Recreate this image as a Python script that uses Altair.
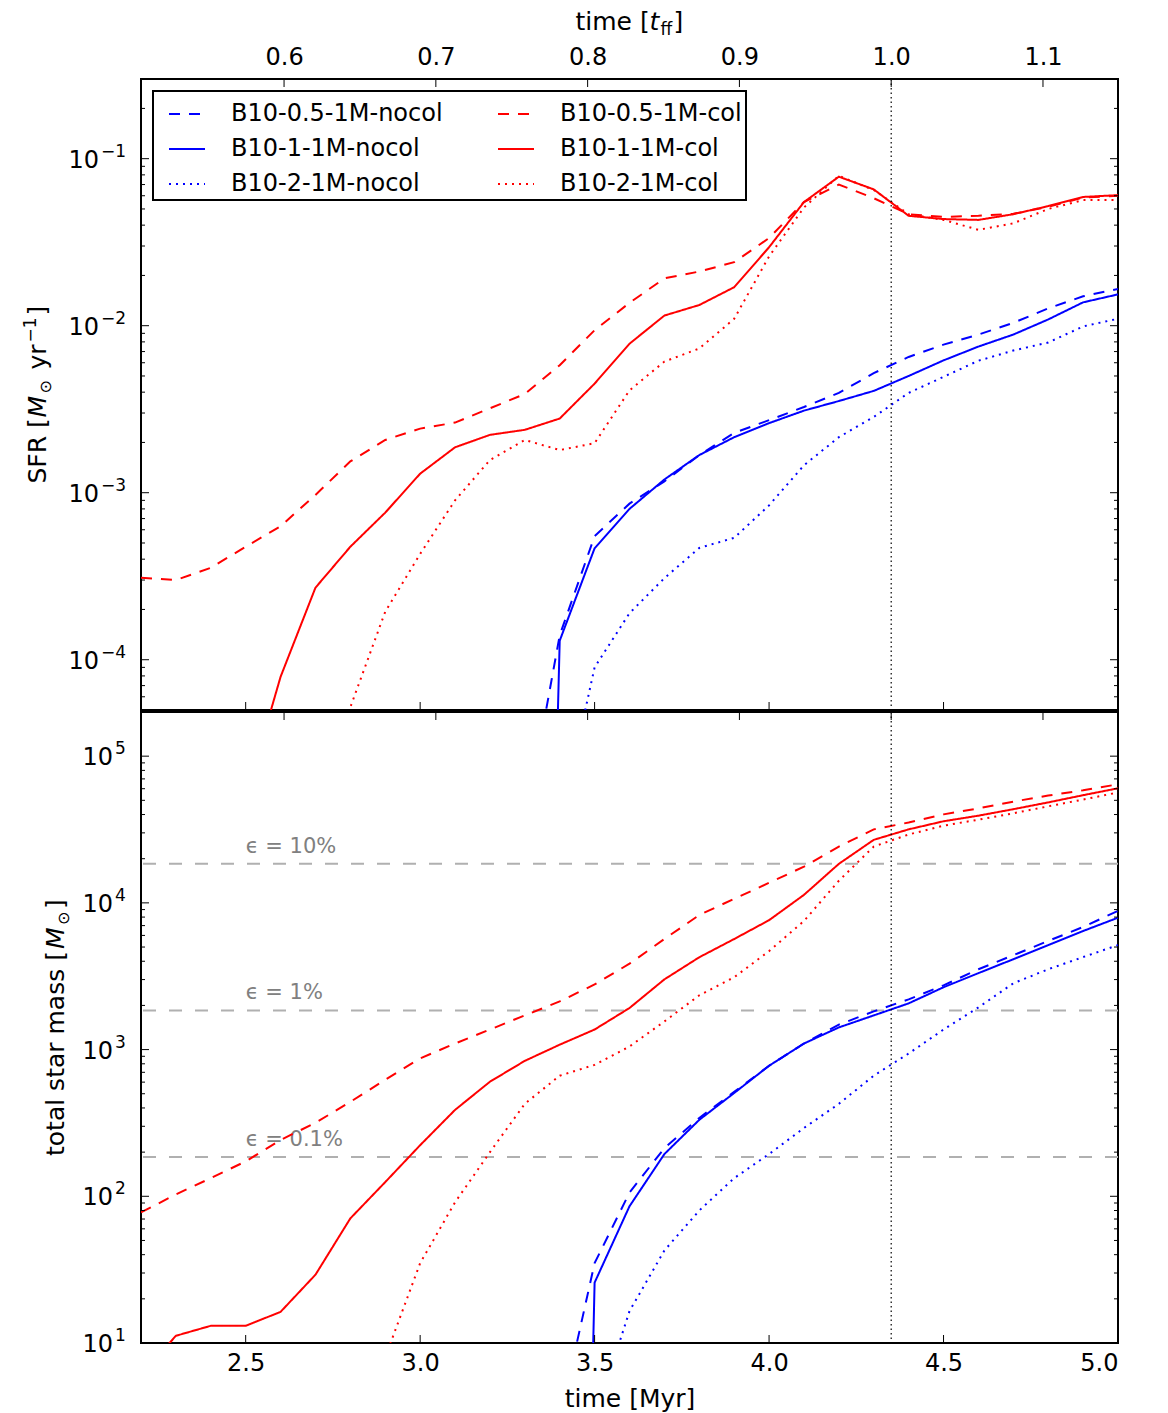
import math
import altair as alt
import pandas as pd

FONT = "DejaVu Sans"
T_FF = 4.35          # Myr corresponding to 1 free-fall time
M_CLOUD = 1.85e5     # total cloud mass [Msun]

times = [2.2, 2.3, 2.4, 2.5, 2.6, 2.7, 2.8, 2.9, 3.0, 3.1, 3.2, 3.3, 3.4, 3.5,
         3.6, 3.7, 3.8, 3.9, 4.0, 4.1, 4.2, 4.3, 4.4, 4.5, 4.6, 4.7, 4.8, 4.9, 5.0]

series_names = ["B10-0.5-1M-nocol", "B10-1-1M-nocol", "B10-2-1M-nocol",
                "B10-0.5-1M-col", "B10-1-1M-col", "B10-2-1M-col"]
series_colors = ["#0000ff", "#0000ff", "#0000ff", "#ff0000", "#ff0000", "#ff0000"]
series_dashes = [[11, 9], [1, 0], [2, 5], [11, 9], [1, 0], [2, 5]]

# ---- SFR [Msun/yr] ----
sfr_05_nocol = [None] * 11 + [1e-5, 1.4e-4, 5.5e-4, 8.6e-4, 1.17e-3, 1.68e-3, 2.28e-3,
                              2.72e-3, 3.26e-3, 3.96e-3, 5.2e-3, 6.5e-3, 7.7e-3, 8.85e-3,
                              1.04e-2, 1.27e-2, 1.5e-2, 1.66e-2]
sfr_05_col = [3.1e-4, 3.0e-4, 3.55e-4, 4.75e-4, 6.3e-4, 9.7e-4, 1.54e-3, 2.07e-3, 2.42e-3,
              2.63e-3, 3.2e-3, 3.9e-3, 5.8e-3, 9.4e-3, 1.37e-2, 1.92e-2, 2.11e-2, 2.4e-2,
              3.35e-2, 5.5e-2, 7.0e-2, 5.8e-2, 4.65e-2, 4.48e-2, 4.55e-2, 4.68e-2, 5.15e-2,
              5.85e-2, 6.0e-2]
sfr_1_nocol = [None] * 11 + [1e-12, 1.3e-4, 4.65e-4, 8.0e-4, 1.2e-3, 1.68e-3, 2.15e-3,
                             2.61e-3, 3.1e-3, 3.54e-3, 4.07e-3, 5.0e-3, 6.2e-3, 7.5e-3,
                             8.85e-3, 1.09e-2, 1.38e-2, 1.54e-2]
sfr_1_col = [None] * 3 + [1.5e-5, 7.9e-5, 2.7e-4, 4.75e-4, 7.6e-4, 1.3e-3, 1.87e-3, 2.22e-3,
                          2.38e-3, 2.78e-3, 4.5e-3, 7.8e-3, 1.15e-2, 1.33e-2, 1.7e-2, 2.95e-2,
                          5.5e-2, 7.8e-2, 6.55e-2, 4.55e-2, 4.35e-2, 4.3e-2, 4.65e-2, 5.2e-2,
                          5.9e-2, 6.05e-2]
sfr_2_nocol = [None] * 12 + [1e-5, 9e-5, 1.9e-4, 3.08e-4, 4.67e-4, 5.37e-4, 8.4e-4, 1.46e-3,
                             2.15e-3, 2.84e-3, 3.96e-3, 4.94e-3, 6.17e-3, 7.1e-3, 7.93e-3,
                             9.9e-3, 1.1e-2]
sfr_2_col = [None] * 5 + [1.5e-5, 5.2e-5, 1.94e-4, 4.3e-4, 9.0e-4, 1.57e-3, 2.07e-3, 1.8e-3,
                          1.98e-3, 4.1e-3, 6.1e-3, 7.3e-3, 1.1e-2, 2.6e-2, 5.1e-2, 7.9e-2,
                          6.5e-2, 4.65e-2, 4.3e-2, 3.75e-2, 4.1e-2, 5.0e-2, 5.65e-2, 5.65e-2]

# ---- total star mass [Msun] ----
mass_05_nocol = [None] * 12 + [3, 35, 106, 213, 342, 515, 776, 1100, 1480, 1820, 2200, 2740,
                               3530, 4400, 5500, 6850, 8820]
mass_05_col = [77.6, 103, 133, 173, 242, 317, 440, 623, 871, 1100, 1370, 1710, 2130, 2780,
               3850, 5670, 8270, 10650, 13700, 17650, 24200, 31700, 35300, 40100, 44100,
               49000, 53900, 58500, 64300]
mass_1_nocol = [None] * 12 + [1e-9, 25.8, 85.5, 194, 332, 506, 776, 1100, 1416, 1710, 2065,
                              2660, 3320, 4130, 5155, 6430, 7925]
mass_1_col = [6, 11.2, 13.1, 13.1, 16.3, 29.2, 70.7, 125, 223, 388, 604, 838, 1080, 1370,
              1920, 3010, 4260, 5670, 7620, 11340, 18450, 26900, 31700, 36000, 39300, 43500,
              48400, 54200, 60400]
mass_2_nocol = [None] * 13 + [3, 16.5, 42.7, 80, 133, 194, 292, 427, 664, 940, 1370, 1940,
                              2830, 3530, 4270, 5155]
mass_2_col = [None] * 7 + [8, 35, 91, 200, 427, 664, 787, 1050, 1555, 2344, 3112, 4690, 7530,
                           14150, 24200, 29250, 33600, 36900, 40800, 45500, 50600, 56600]

# ---- axes / annotations ----
x_ticks = [2.5, 3.0, 3.5, 4.0, 4.5, 5.0]
tff_ticks = [0.6, 0.7, 0.8, 0.9, 1.0, 1.1]
sfr_major = [1e-4, 1e-3, 1e-2, 1e-1]
sfr_exponents = ["−4", "−3", "−2", "−1"]
sfr_minor = [5e-5, 6e-5, 7e-5, 8e-5, 9e-5,
             2e-4, 3e-4, 4e-4, 5e-4, 6e-4, 7e-4, 8e-4, 9e-4,
             2e-3, 3e-3, 4e-3, 5e-3, 6e-3, 7e-3, 8e-3, 9e-3,
             2e-2, 3e-2, 4e-2, 5e-2, 6e-2, 7e-2, 8e-2, 9e-2, 2e-1, 3e-1]
mass_major = [1e1, 1e2, 1e3, 1e4, 1e5]
mass_exponents = ["1", "2", "3", "4", "5"]
mass_minor = [2e1, 3e1, 4e1, 5e1, 6e1, 7e1, 8e1, 9e1,
              2e2, 3e2, 4e2, 5e2, 6e2, 7e2, 8e2, 9e2,
              2e3, 3e3, 4e3, 5e3, 6e3, 7e3, 8e3, 9e3,
              2e4, 3e4, 4e4, 5e4, 6e4, 7e4, 8e4, 9e4, 2e5]
eps_levels = [0.001, 0.01, 0.1]
eps_labels = ["ϵ = 0.1%", "ϵ = 1%", "ϵ = 10%"]
eps_label_time = [2.5, 2.5, 2.5]
tff_line = [T_FF]

# axis-title pieces: (text, font size, style, baseline shift, advance)
sfr_title = [("SFR [", 25, "normal", 0, 66), ("M", 25, "italic", 0, 24),
             ("⊙", 16, "normal", 5, 24), ("yr", 25, "normal", 0, 27),
             ("−1", 17, "normal", -10, 27), ("]", 25, "normal", 0, 10)]
mass_title = [("total star mass [", 25, "normal", 0, 207), ("M", 25, "italic", 0, 24),
              ("⊙", 16, "normal", 5, 16), ("]", 25, "normal", 0, 10)]
tff_title = [("time [", 25, "normal", 0, 74), ("t", 25, "italic", 0, 11),
             ("ff", 17, "normal", 5, 13), ("]", 25, "normal", 0, 10)]

W, H = 977, 631
xscale = alt.Scale(domain=[2.2, 5.0], nice=False, zero=False)
sfr_scale = alt.Scale(type="log", domain=[5e-5, 0.3], nice=False)
mass_scale = alt.Scale(type="log", domain=[10, 2e5], nice=False)
color_scale = alt.Scale(domain=series_names, range=series_colors)
dash_scale = alt.Scale(domain=series_names, range=series_dashes)


def long_frame(value_lists):
    rows = []
    for name, vals in zip(series_names, value_lists):
        for t, v in zip(times, vals):
            if v is not None:
                rows.append({"t": t, "v": v, "series": name})
    return pd.DataFrame(rows)


x_axis_top = alt.Axis(orient="top", values=[v * T_FF for v in tff_ticks],
                      labelExpr=f"format(datum.value/{T_FF}, '.1f')",
                      title=None, labelPadding=10)
x_axis_bot = alt.Axis(orient="bottom", values=x_ticks, format=".1f",
                      title="time [Myr]", labelPadding=8, titlePadding=11)

one = pd.DataFrame({"a": [0]})


def text_piece(txt, px, py, fs, style, align="left", angle=0):
    kw = dict(text=txt, font=FONT, fontSize=fs, align=align, fontStyle=style,
              baseline="alphabetic", color="black")
    if angle:
        kw["angle"] = angle
    return alt.Chart(one).mark_text(**kw).encode(x=alt.value(px), y=alt.value(py))


def vertical_title(pieces, base_x):
    total = sum(p[4] for p in pieces)
    s = H / 2 + total / 2
    out = []
    for txt, fs, st, shift, adv in pieces:
        out.append(text_piece(txt, base_x + shift, s, fs, st, angle=270))
        s -= adv
    return out


def horizontal_title(pieces, base_y):
    total = sum(p[4] for p in pieces)
    s = W / 2 - total / 2
    out = []
    for txt, fs, st, shift, adv in pieces:
        out.append(text_piece(txt, s, base_y + shift, fs, st))
        s += adv
    return out


def y_labels(yscale, majors, exps, base_right):
    df = pd.DataFrame({"v": majors, "e": exps, "b": ["10"] * len(majors)})
    base = alt.Chart(df).mark_text(font=FONT, fontSize=24, align="right",
                                   baseline="alphabetic", dy=9, color="black").encode(
        y=alt.Y("v:Q", scale=yscale, axis=None), x=alt.value(base_right), text="b:N")
    sup = alt.Chart(df).mark_text(font=FONT, fontSize=17, align="left",
                                  baseline="alphabetic", dy=-2, color="black").encode(
        y=alt.Y("v:Q", scale=yscale, axis=None), x=alt.value(base_right + 2), text="e:N")
    return [base, sup]


def tick_layers(yscale, xaxis, ymaj, ymin):
    out = []
    for vals, L in ((ymaj, 8), (ymin, 4)):
        df = pd.DataFrame({"v": vals})
        base = alt.Chart(df).mark_rule(color="black", strokeWidth=1)
        out.append(base.encode(y=alt.Y("v:Q", scale=yscale, axis=None),
                               x=alt.value(0), x2=alt.value(L)))
        out.append(base.encode(y=alt.Y("v:Q", scale=yscale, axis=None),
                               x=alt.value(W - L), x2=alt.value(W)))
    xb = pd.DataFrame({"t": x_ticks})
    out.append(alt.Chart(xb).mark_rule(color="black", strokeWidth=1).encode(
        x=alt.X("t:Q", scale=xscale, axis=xaxis), y=alt.value(H - 8), y2=alt.value(H)))
    xt = pd.DataFrame({"t": [v * T_FF for v in tff_ticks]})
    out.append(alt.Chart(xt).mark_rule(color="black", strokeWidth=1).encode(
        x=alt.X("t:Q", scale=xscale, axis=xaxis), y=alt.value(0), y2=alt.value(8)))
    return out


def vline(xaxis):
    return alt.Chart(pd.DataFrame({"t": tff_line})).mark_rule(
        color="black", strokeDash=[1.5, 3], strokeWidth=1.2).encode(
        x=alt.X("t:Q", scale=xscale, axis=xaxis))


legend = alt.Legend(title=None, orient="top-left", columns=2, symbolType="stroke",
                    symbolSize=1296, symbolStrokeWidth=2, labelFontSize=24,
                    labelFont=FONT, labelColor="black", labelOffset=25,
                    columnPadding=43, rowPadding=4, padding=4, offset=12,
                    symbolOffset=11, strokeColor="black", fillColor="white",
                    labelLimit=400)

# ---------------- top panel ----------------
sfr_df = long_frame([sfr_05_nocol, sfr_1_nocol, sfr_2_nocol, sfr_05_col, sfr_1_col, sfr_2_col])
top_lines = alt.Chart(sfr_df).mark_line(clip=True, strokeWidth=2).encode(
    x=alt.X("t:Q", scale=xscale, axis=x_axis_top),
    y=alt.Y("v:Q", scale=sfr_scale, axis=None),
    color=alt.Color("series:N", scale=color_scale, legend=legend),
    strokeDash=alt.StrokeDash("series:N", scale=dash_scale, legend=legend),
)

top = alt.layer(top_lines, vline(x_axis_top),
                *tick_layers(sfr_scale, x_axis_top, sfr_major, sfr_minor),
                *y_labels(sfr_scale, sfr_major, sfr_exponents, -42),
                *vertical_title(sfr_title, -95),
                *horizontal_title(tff_title, -49)).properties(width=W, height=H)

# ---------------- bottom panel ----------------
mass_df = long_frame([mass_05_nocol, mass_1_nocol, mass_2_nocol,
                      mass_05_col, mass_1_col, mass_2_col])
bot_lines = alt.Chart(mass_df).mark_line(clip=True, strokeWidth=2).encode(
    x=alt.X("t:Q", scale=xscale, axis=x_axis_bot),
    y=alt.Y("v:Q", scale=mass_scale, axis=None),
    color=alt.Color("series:N", scale=color_scale, legend=None),
    strokeDash=alt.StrokeDash("series:N", scale=dash_scale, legend=None),
)

eps_df = pd.DataFrame({"m": [e * M_CLOUD for e in eps_levels], "label": eps_labels,
                       "t": eps_label_time})
eps_rules = alt.Chart(eps_df).mark_rule(color="#b0b0b0", strokeDash=[13, 13],
                                        strokeWidth=2).encode(
    y=alt.Y("m:Q", scale=mass_scale, axis=None))
eps_text = alt.Chart(eps_df).mark_text(font=FONT, fontSize=21, color="#808080",
                                       align="left", baseline="alphabetic", dy=-11).encode(
    x=alt.X("t:Q", scale=xscale, axis=x_axis_bot),
    y=alt.Y("m:Q", scale=mass_scale, axis=None),
    text="label:N")

bottom = alt.layer(eps_rules, eps_text, bot_lines, vline(x_axis_bot),
                   *tick_layers(mass_scale, x_axis_bot, mass_major, mass_minor),
                   *y_labels(mass_scale, mass_major, mass_exponents, -28),
                   *vertical_title(mass_title, -77)).properties(width=W, height=H)

chart = alt.vconcat(top, bottom, spacing=-3).properties(
    padding={"left": 21, "top": 9, "right": 5, "bottom": 5}
).configure_view(stroke="black", strokeWidth=2).configure_axis(
    labelFont=FONT, titleFont=FONT, labelFontSize=24, titleFontSize=25,
    titleFontWeight="normal", labelColor="black", titleColor="black",
    grid=False, domain=False, ticks=False
).configure_legend(strokeWidth=2)

chart.save("out.html", embed_options={"renderer": "svg", "actions": False})
